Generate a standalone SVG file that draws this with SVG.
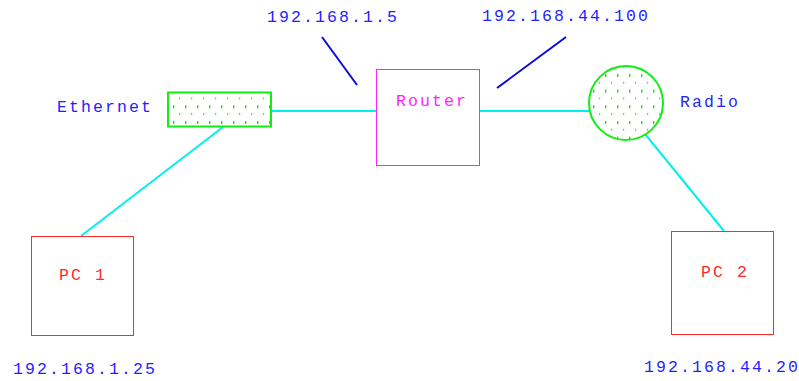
<svg xmlns="http://www.w3.org/2000/svg" width="799" height="381" viewBox="0 0 799 381">
  <style>
    .lbl { font-family: "Liberation Mono", "DejaVu Sans Mono", monospace; font-size: 16.5px; letter-spacing: 2.1px; }
    .blue { fill: #1f1fff; }
    .red { fill: #ff2a2a; }
    .mag { fill: #ff1fff; }
    .link { stroke: #00f0f0; stroke-width: 2; fill: none; }
    .ptr { stroke: #0a0ad8; stroke-width: 2; fill: none; }
    .hub { fill: url(#dots); stroke: #11ee11; stroke-width: 2; }
    .pc { fill: none; stroke: #ff2a2a; stroke-width: 1; }
  </style>
  <defs>
    <!-- stipple fill shared by the Ethernet bar and the radio disc -->
    <pattern id="dots" patternUnits="userSpaceOnUse" x="2" y="71" width="12" height="15.67">
      <rect x="3" y="3" width="1.4" height="3" fill="#11dd11"/>
      <rect x="9" y="11" width="1.2" height="1.5" fill="#11dd11"/>
    </pattern>
  </defs>
  <rect width="799" height="381" fill="#ffffff"/>

  <g id="connectors">
    <line class="link" x1="271" y1="111" x2="376" y2="111"/>
    <line class="link" x1="479" y1="111" x2="589" y2="111"/>
    <line class="link" x1="223" y1="127" x2="81" y2="236"/>
    <line class="link" x1="645" y1="134" x2="724" y2="231"/>
    <line class="ptr" x1="322" y1="37" x2="357" y2="85"/>
    <line class="ptr" x1="497" y1="88" x2="566" y2="37"/>
  </g>

  <g id="router">
    <rect x="376.5" y="69.5" width="103" height="96" fill="none" stroke="#ff1fff" stroke-width="1"/>
    <text class="lbl mag" x="396" y="106">Router</text>
  </g>

  <g id="ethernet">
    <rect class="hub" x="168" y="92.5" width="103" height="34"/>
    <text class="lbl blue" x="57" y="112">Ethernet</text>
  </g>

  <g id="radio">
    <circle class="hub" cx="626" cy="103" r="37"/>
    <text class="lbl blue" x="680" y="107">Radio</text>
  </g>

  <g id="pc1">
    <rect class="pc" x="31.5" y="236.5" width="102" height="99"/>
    <text class="lbl red" x="59" y="280">PC 1</text>
  </g>

  <g id="pc2">
    <rect class="pc" x="671.5" y="231.5" width="102" height="103"/>
    <text class="lbl red" x="701" y="277">PC 2</text>
  </g>

  <g id="addresses">
    <text class="lbl blue" x="267" y="22">192.168.1.5</text>
    <text class="lbl blue" x="482" y="21">192.168.44.100</text>
    <text class="lbl blue" x="13" y="374">192.168.1.25</text>
    <text class="lbl blue" x="644" y="372" letter-spacing="1.9">192.168.44.20</text>
  </g>
</svg>
